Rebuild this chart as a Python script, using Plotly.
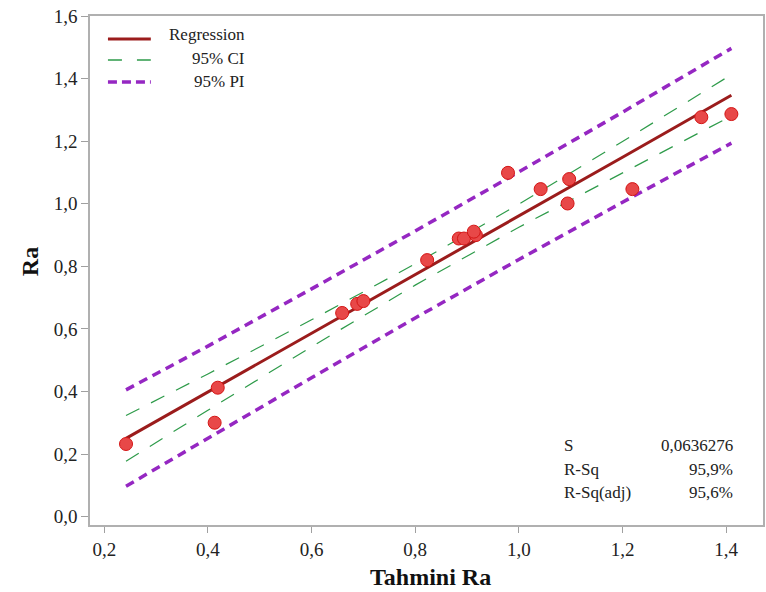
import plotly.graph_objects as go

# Observed data (Tahmini Ra vs Ra)
pred_ra = [0.242, 0.419, 0.413, 0.659, 0.688, 0.700, 0.823, 0.884, 0.894,
           0.917, 0.913, 0.979, 1.042, 1.097, 1.094, 1.219, 1.352, 1.410]
obs_ra = [0.232, 0.412, 0.300, 0.651, 0.680, 0.689, 0.820, 0.889, 0.889,
          0.900, 0.911, 1.099, 1.047, 1.079, 1.001, 1.047, 1.277, 1.287]

# Fitted line and bands
band_x = [0.242, 0.4, 0.6, 0.8, 1.0, 1.2, 1.41]
fit_y = [0.250, 0.398, 0.586, 0.774, 0.962, 1.149, 1.347]
ci_upper = [0.323, 0.456, 0.629, 0.808, 0.999, 1.199, 1.413]
ci_lower = [0.177, 0.340, 0.543, 0.740, 0.925, 1.099, 1.281]
pi_upper = [0.405, 0.545, 0.728, 0.913, 1.102, 1.293, 1.497]
pi_lower = [0.097, 0.251, 0.444, 0.635, 0.822, 1.005, 1.194]

x_ticks = [0.2, 0.4, 0.6, 0.8, 1.0, 1.2, 1.4]
y_ticks = [0.0, 0.2, 0.4, 0.6, 0.8, 1.0, 1.2, 1.4, 1.6]

stat_labels = ["S", "R-Sq", "R-Sq(adj)"]
stat_values = ["0,0636276", "95,9%", "95,6%"]

legend_names = ["Regression", "95% CI", "95% PI"]

RED = "#9B1C1C"
GREEN = "#2E9B4A"
PURPLE = "#9527C2"
FONT = "Liberation Serif"

fig = go.Figure()
for yy in (pi_upper, pi_lower):
    fig.add_trace(go.Scatter(x=band_x, y=yy, mode="lines", showlegend=False,
                             line=dict(color=PURPLE, width=3.5, dash="9px,6px")))
for yy in (ci_upper, ci_lower):
    fig.add_trace(go.Scatter(x=band_x, y=yy, mode="lines", showlegend=False,
                             line=dict(color=GREEN, width=1.2, dash="15px,13px")))
fig.add_trace(go.Scatter(x=band_x, y=fit_y, mode="lines", showlegend=False,
                         line=dict(color=RED, width=3)))
fig.add_trace(go.Scatter(x=pred_ra, y=obs_ra, mode="markers", showlegend=False,
                         marker=dict(size=13, color="#E84848",
                                     line=dict(color="#D41515", width=1))))

# Plot area on the page: x 90..765, y 16..525
def px_x(p):
    return (p - 90) / 675.0

def px_y(p):
    return (525 - p) / 509.0

leg_rows = [(39, RED, 3, "solid"), (60, GREEN, 1.5, "14px,15px"), (82, PURPLE, 3.5, "9px,5px")]
text_rows = [35, 59, 81]
for (ly, col, w, d), name, ty in zip(leg_rows, legend_names, text_rows):
    fig.add_shape(type="line", xref="paper", yref="paper",
                  x0=px_x(108), x1=px_x(151), y0=px_y(ly), y1=px_y(ly),
                  line=dict(color=col, width=w, dash=d))
    fig.add_annotation(xref="paper", yref="paper", x=px_x(247), y=px_y(ty),
                       text=name, showarrow=False, xanchor="right", yanchor="middle",
                       font=dict(family=FONT, size=17, color="#222"))

for lab, val, ty in zip(stat_labels, stat_values, [445, 469, 492]):
    fig.add_annotation(xref="paper", yref="paper", x=px_x(563), y=px_y(ty),
                       text=lab, showarrow=False, xanchor="left", yanchor="middle",
                       font=dict(family=FONT, size=17, color="#222"))
    fig.add_annotation(xref="paper", yref="paper", x=px_x(737), y=px_y(ty),
                       text=val, showarrow=False, xanchor="right", yanchor="middle",
                       font=dict(family=FONT, size=17, color="#222"))

# Axis titles
fig.add_annotation(xref="paper", yref="paper", x=px_x(432), y=px_y(577),
                   text="<b>Tahmini Ra</b>", showarrow=False,
                   xanchor="center", yanchor="middle",
                   font=dict(family=FONT, size=24, color="#111"))
fig.add_annotation(xref="paper", yref="paper", x=px_x(30), y=px_y(262),
                   text="<b>Ra</b>", showarrow=False, textangle=-90,
                   xanchor="center", yanchor="middle",
                   font=dict(family=FONT, size=24, color="#111"))

axis_common = dict(showgrid=False, zeroline=False, showline=True, mirror=True,
                   linecolor="#B0B0B0", linewidth=1.5, ticks="outside",
                   tickcolor="#A0A0A0", tickwidth=1, tickformat=".1f",
                   tickfont=dict(family=FONT, size=19, color="#222"))

fig.update_xaxes(range=[0.1725, 1.471], tickvals=x_ticks, ticklen=6, **axis_common)
fig.update_yaxes(range=[-0.027, 1.6005], tickvals=y_ticks, ticklen=7, **axis_common)

fig.update_layout(width=766, height=592, separators=",.",
                  margin=dict(l=90, r=1, t=16, b=67),
                  plot_bgcolor="white", paper_bgcolor="white")

fig.write_html("out.html", config={"displayModeBar": False},
               post_script="document.body.style.margin='0px';")
